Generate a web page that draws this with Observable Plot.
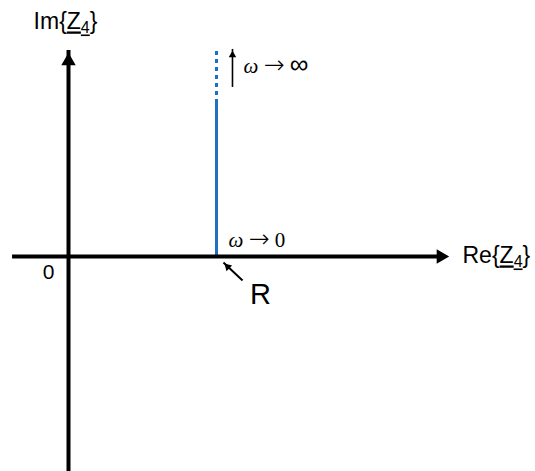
<!DOCTYPE html>
<html>
<head>
<meta charset="utf-8">
<script src="https://cdn.jsdelivr.net/npm/d3@7"></script>
<script src="https://cdn.jsdelivr.net/npm/@observablehq/plot@0.6"></script>
<style>
  html, body { margin: 0; padding: 0; background: #fff; }
</style>
</head>
<body>
<div id="chart"></div>
<script>
// Locus of the impedance Z4 (resistor R in series with an inductor) in the
// complex plane: Re{Z4} stays at R while Im{Z4} grows from 0 (ω → 0) to ∞.

const R = 1;                          // Re{Z4}
const imSolid = [0, 1.034];           // Im{Z4} range drawn solid
const imDashed = [1.034, 1.385];      // continuation toward ω → ∞
const reAxis = [-0.378, 2.588];       // real axis, arrow tip on the right
const imAxis = [-1.399, 1.392];       // imaginary axis, arrow tip on top

const axisLabels = [
  {text: "Im{Z4}", x: -0.236, y: 1.534},
  {text: "Re{Z4}", x: 2.662, y: -0.047}
];
const originLabel = [{text: "0", x: -0.135, y: -0.155}];
const rLabel = [{text: "R", x: 1.297, y: -0.318}];
const limitLabels = [
  {text: "ω → ∞", x: 1.182, y: 1.243},
  {text: "ω → 0", x: 1.081, y: 0.061}
];
const infArrow = [{x: 1.108, y1: 1.176, y2: 1.399}];
const rArrow = [{x1: 1.176, y1: -0.162, x2: 1.047, y2: -0.041}];

const blue = "#1f6fc4";
const sans = "'Liberation Sans', Arial, Helvetica, sans-serif";
const serif = "'Liberation Serif', 'Times New Roman', serif";
const symbols = "'DejaVu Sans', sans-serif";

const svg = Plot.plot({
  width: 535,
  height: 471,
  margin: 0,
  x: {domain: [-0.4595, 3.1554], axis: null},
  y: {domain: [-1.4527, 1.7297], axis: null},
  style: {background: "white"},
  marks: [
    // the locus: solid up to a finite ω, dashed as ω → ∞
    Plot.ruleX([R], {y1: imSolid[0], y2: imSolid[1], stroke: blue, strokeWidth: 3}),
    Plot.ruleX([R], {y1: imDashed[0], y2: imDashed[1], stroke: blue, strokeWidth: 3, strokeDasharray: "4,4"}),

    // real axis with arrowhead
    Plot.ruleY([0], {x1: reAxis[0], x2: reAxis[1], stroke: "black", strokeWidth: 4, insetRight: 8}),
    Plot.dot([{x: reAxis[1], y: 0}], {x: "x", y: "y", symbol: "triangle2", r: 6.9, fill: "black", stroke: null, rotate: 90, dx: -10.67}),

    // imaginary axis with arrowhead
    Plot.ruleX([0], {y1: imAxis[0], y2: imAxis[1], stroke: "black", strokeWidth: 4, insetTop: 8}),
    Plot.dot([{x: 0, y: imAxis[1]}], {x: "x", y: "y", symbol: "triangle2", r: 6.9, fill: "black", stroke: null, dy: 10.67}),

    // small arrow beside ω → ∞
    Plot.ruleX(infArrow, {x: "x", y1: "y1", y2: "y2", stroke: "black", strokeWidth: 1.6, insetTop: 5}),
    Plot.dot(infArrow, {x: "x", y: "y2", symbol: "triangle2", r: 3.6, fill: "black", stroke: null, dy: 5.6}),

    // arrow pointing at R on the real axis
    Plot.link(rArrow, {x1: "x1", y1: "y1", x2: "x2", y2: "y2", stroke: "black", strokeWidth: 2}),
    Plot.dot(rArrow, {x: "x2", y: "y2", symbol: "triangle2", r: 3.8, fill: "black", stroke: null, rotate: -45, dx: 4.2, dy: 4.2}),

    // labels
    Plot.text(axisLabels, {x: "x", y: "y", text: "text", textAnchor: "start", lineAnchor: "bottom", fontSize: 23, fontFamily: sans, fill: "black"}),
    Plot.text(originLabel, {x: "x", y: "y", text: "text", textAnchor: "middle", lineAnchor: "bottom", fontSize: 21, fontFamily: sans, fill: "black"}),
    Plot.text(rLabel, {x: "x", y: "y", text: "text", textAnchor: "middle", lineAnchor: "bottom", fontSize: 29, fontFamily: sans, fill: "black"}),
    Plot.text(limitLabels, {x: "x", y: "y", text: "text", textAnchor: "start", lineAnchor: "bottom", fontSize: 21, fontFamily: serif, fill: "black"})
  ]
});

// Typeset the labels: underlined phasor Z with subscript, math-style ω → limit.
d3.select(svg).selectAll("text").each(function () {
  const s = this.textContent;
  const m = /^(.*)\{Z(\d)\}$/.exec(s);
  const t = d3.select(this);
  if (m) {
    this.textContent = "";
    t.append("tspan").text(m[1] + "{");
    const u = t.append("tspan").style("text-decoration", "underline");
    u.append("tspan").text("Z");
    u.append("tspan").attr("font-size", "16").attr("dy", "4").text(m[2]);
    t.append("tspan").attr("dy", "-4").text("}");
  } else if (s.startsWith("ω")) {
    const [w, arrow, limit] = s.split(" ");
    this.textContent = "";
    t.append("tspan").attr("font-style", "italic").text(w + " ");
    t.append("tspan").attr("font-family", symbols).attr("font-size", 25).attr("font-weight", 300).text(arrow);
    t.append("tspan").text(" ");
    if (limit === "∞") {
      t.append("tspan").attr("font-family", symbols).attr("font-size", 26).attr("font-weight", 300).text(limit);
    } else {
      t.append("tspan").text(limit);
    }
  }
});

document.getElementById("chart").appendChild(svg);
</script>
</body>
</html>
